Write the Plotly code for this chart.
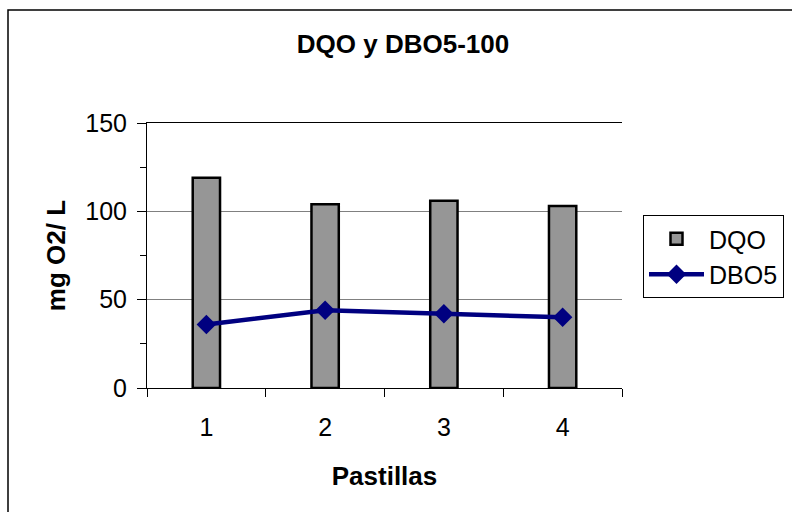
import plotly.graph_objects as go

# Data: DQO and DBO5 (mg O2/L) per tablet
pastillas = ["1", "2", "3", "4"]
dqo = [119, 104, 106, 103]
dbo5 = [36, 44, 42, 40]

FONT = "Liberation Sans, Arial, sans-serif"

fig = go.Figure()
fig.add_trace(go.Bar(
    x=pastillas, y=dqo, name="DQO", width=0.23,
    marker=dict(color="#969696", line=dict(color="#000000", width=2.5)),
))
fig.add_trace(go.Scatter(
    x=pastillas, y=dbo5, name="DBO5", mode="lines+markers",
    line=dict(color="#000080", width=4.5),
    marker=dict(symbol="diamond", size=15, color="#000080"),
))

# Left/top edges of the chart frame (frame continues past the page)
plot_l, plot_r, plot_t, plot_b = 147, 622, 123, 388
pw, ph = plot_r - plot_l, plot_b - plot_t
fig.add_shape(type="rect", xref="paper", yref="paper",
              x0=(8 - plot_l) / pw, x1=2, y0=-2, y1=(plot_b - 10) / ph,
              line=dict(color="#000000", width=1.5), layer="below")

fig.update_layout(
    width=792, height=512,
    margin=dict(l=plot_l, r=792 - plot_r, t=plot_t, b=512 - plot_b,
                autoexpand=False),
    paper_bgcolor="white", plot_bgcolor="white",
    font=dict(family=FONT, color="#000000", size=25),
    title=dict(text="<b>DQO y DBO5-100</b>", font=dict(size=26),
               xref="container", x=403 / 792, xanchor="center",
               yref="container", y=1 - 44 / 512, yanchor="middle"),
    showlegend=True,
    legend=dict(x=(643 - plot_l) / pw, y=(plot_b - 215) / ph,
                xanchor="left", yanchor="top",
                bordercolor="#000000", borderwidth=1,
                font=dict(size=25), itemwidth=55),
    bargap=0.77,
)
fig.update_xaxes(
    type="category", tickson="boundaries", ticks="outside", ticklen=8,
    tickcolor="#000000", showline=True, linecolor="#000000", linewidth=1,
    mirror=True, showgrid=False, ticklabelstandoff=17,
    title=dict(text="<b>Pastillas</b>", font=dict(size=26), standoff=26),
)
fig.update_yaxes(
    range=[0, 150], tickvals=[0, 50, 100, 150], ticks="outside", ticklen=9,
    tickcolor="#000000", showline=True, linecolor="#000000", linewidth=1,
    showgrid=True, gridcolor="#808080", gridwidth=1, zeroline=False,
    minor=dict(tickvals=[25, 75, 125], ticks="outside", ticklen=6,
               tickcolor="#000000", showgrid=False),
    ticklabelstandoff=5,
    title=dict(text="<b>mg O2/ L</b>", font=dict(size=26), standoff=12),
)

fig.write_html("out.html")
